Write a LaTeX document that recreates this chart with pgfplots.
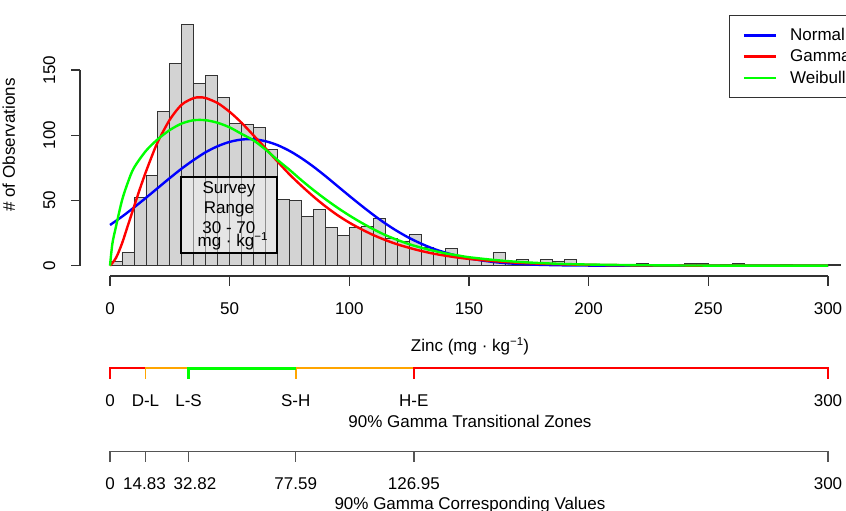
\documentclass[border=0pt]{standalone}
\usepackage{pgfplots}
\pgfplotsset{compat=1.18}
\usepackage{fontspec}
\setmainfont{Liberation Sans}
\definecolor{Rred}{RGB}{255,0,0}
\definecolor{Rblue}{RGB}{0,0,255}
\definecolor{Rgreen}{RGB}{0,255,0}
\definecolor{Rorange}{RGB}{255,165,0}
\definecolor{barfill}{RGB}{211,211,211}
\definecolor{axisgray}{RGB}{50,50,50}
\definecolor{zonegray}{RGB}{85,85,85}
\newcommand{\sups}[1]{\raisebox{6.5pt}{\fontsize{11.5}{12}\selectfont #1}}
\begin{document}
\begin{tikzpicture}[font=\fontsize{17}{20}\selectfont]
\path[use as bounding box] (0,0) rectangle (846pt,511pt);
\clip (0,0) rectangle (846pt,511pt);
\begin{axis}[
  at={(80pt,245.3pt)}, anchor=south west,
  scale only axis, width=748pt, height=195.7pt,
  xmin=-12.54, xmax=300, ymin=0, ymax=150,
  enlargelimits=false, clip=false,
  axis x line=none, axis y line=left,
  y axis line style={-, line width=1.1pt, draw=axisgray},
  xtick=\empty, ytick={0,50,100,150}, yticklabels={},
  tick align=outside, major tick length=8.5pt,
  ytick style={line width=1.1pt, draw=axisgray},
  legend cell align=left,
  legend style={at={(axis description cs:0.868,1.281)}, anchor=north west,
    draw=axisgray, line width=1pt, fill=white,
    font=\fontsize{17}{20}\selectfont,
    inner xsep=13pt, inner ysep=11pt, row sep=3.6pt,
    /tikz/every odd column/.append style={column sep=11pt}},
  legend image code/.code={\draw[#1] (0pt,0pt) -- (32pt,0pt);},
]
% histogram (bin start, count)
\addplot[ybar interval, fill=barfill, draw=black!80, line width=0.8pt, forget plot] coordinates {
(0,3) (5,10) (10,52) (15,69) (20,118) (25,155) (30,185) (35,140) (40,146) (45,129)
(50,109) (55,108) (60,106) (65,89) (70,51) (75,50) (80,38) (85,43) (90,29) (95,23)
(100,29) (105,30) (110,36) (115,21) (120,19) (125,24) (130,14) (135,9) (140,13) (145,7)
(150,5) (155,4) (160,10) (165,2) (170,5) (175,2) (180,5) (185,3) (190,5) (195,1)
(200,1) (205,0) (210,1) (215,0) (220,2) (225,1) (230,0) (235,0) (240,2) (245,2)
(250,0) (255,1) (260,2) (265,0) (270,0) (275,0) (280,1) (285,0) (290,0) (295,0)
(300,1) (305,0)
};
% survey range box
\draw[black, line width=2pt, fill=white, fill opacity=0.45] (axis cs:29.7,9.5) rectangle (axis cs:69.7,68.1);
\node[anchor=base] at (axis cs:49.7,54.96) {Survey};
\node[anchor=base] at (axis cs:49.7,40.16) {Range};
\node[anchor=base] at (axis cs:49.7,24.83) {30 - 70};
\node[anchor=base] at (axis cs:51.2,14.56) {mg · kg\sups{−1}};
% fitted curves
\addplot[Rblue, line width=2.4pt, smooth] coordinates {
(0,31.2) (5,37.6) (10,44.6) (15,52.0) (20,59.6) (25,67.2) (30,74.5) (35,81.1) (40,87.0) (45,91.6)
(50,94.9) (55,96.7) (60,96.9) (65,95.4) (70,92.4) (75,88.0) (80,82.4) (85,75.9) (90,68.7) (95,61.1)
(100,53.5) (105,46.1) (110,39.0) (115,32.4) (120,26.5) (125,21.3) (130,16.9) (135,13.1) (140,10.1) (145,7.6)
(150,5.6) (155,4.1) (160,2.9) (165,2.0) (170,1.4) (175,0.96) (180,0.64) (190,0.27) (200,0.11) (220,0.01)
(250,0) (300,0)
};
\addlegendentry{Normal}
\addplot[Rred, line width=2.4pt, smooth] coordinates {
(0,0) (2.5,6) (5,17) (7.5,31) (10,45) (12.5,59) (15,72) (17.5,84) (20,95) (25,112)
(30,123.5) (35,128.5) (37.5,129) (40,128.5) (45,124.6) (50,117.9) (55,109.5) (60,99.8) (65,90) (70,79.8)
(75,70) (80,61.2) (85,53) (90,45.5) (95,38.8) (100,33.0) (105,28) (110,23.5) (115,19.7) (120,16.4)
(125,13.7) (130,11.3) (135,9.3) (140,7.7) (145,6.3) (150,5.2) (160,3.5) (170,2.3) (180,1.5) (190,1.0)
(200,0.65) (220,0.27) (250,0.07) (300,0)
};
\addlegendentry{Gamma}
\addplot[Rgreen, line width=2.4pt, smooth] coordinates {
(0,0) (1,17) (2.5,30) (5,50) (7.5,64) (10,75) (15,88) (20,97) (25,104) (30,109)
(35,111.5) (40,111.5) (45,109.5) (50,106) (55,101) (60,96) (65,89) (70,81) (75,73.5) (80,65.5)
(85,58) (90,51) (95,44.5) (100,38.5) (105,33) (110,28) (115,23.5) (120,19.8) (125,16.5) (130,13.8)
(135,11.5) (140,9.5) (145,8) (150,6.5) (160,4.5) (170,3) (180,2) (190,1.3) (200,0.9) (220,0.4)
(250,0.1) (300,0)
};
\addlegendentry{Weibull}
% main x axis (R style)
\draw[axisgray, line width=1.1pt] (axis cs:0,-7.9) -- (axis cs:300,-7.9);
\draw[axisgray, line width=1.1pt] (axis cs:0,-7.9) -- (axis cs:0,-15.2);
\draw[axisgray, line width=1.1pt] (axis cs:50,-7.9) -- (axis cs:50,-15.2);
\draw[axisgray, line width=1.1pt] (axis cs:100,-7.9) -- (axis cs:100,-15.2);
\draw[axisgray, line width=1.1pt] (axis cs:150,-7.9) -- (axis cs:150,-15.2);
\draw[axisgray, line width=1.1pt] (axis cs:200,-7.9) -- (axis cs:200,-15.2);
\draw[axisgray, line width=1.1pt] (axis cs:250,-7.9) -- (axis cs:250,-15.2);
\draw[axisgray, line width=1.1pt] (axis cs:300,-7.9) -- (axis cs:300,-15.2);
\node[anchor=base] at (axis cs:0,-37.2) {0};
\node[anchor=base] at (axis cs:50,-37.2) {50};
\node[anchor=base] at (axis cs:100,-37.2) {100};
\node[anchor=base] at (axis cs:150,-37.2) {150};
\node[anchor=base] at (axis cs:200,-37.2) {200};
\node[anchor=base] at (axis cs:250,-37.2) {250};
\node[anchor=base] at (axis cs:300,-37.2) {300};
\node[anchor=base] at (axis cs:150.4,-65.9) {Zinc (mg · kg\sups{−1})};
% y tick labels and label
\node[rotate=90, anchor=base] at (axis cs:-22.98,0) {0};
\node[rotate=90, anchor=base] at (axis cs:-22.98,50) {50};
\node[rotate=90, anchor=base] at (axis cs:-22.98,100) {100};
\node[rotate=90, anchor=base] at (axis cs:-22.98,150) {150};
\node[rotate=90, anchor=base] at (axis cs:-39.7,92.5) {\# of Observations};
% transitional zones
\addplot[Rred, line width=1.8pt, forget plot] coordinates {(0,-86.8) (0,-78.6) (14.83,-78.6)};
\addplot[Rorange, line width=1.8pt, forget plot] coordinates {(14.83,-86.8) (14.83,-78.6) (32.82,-78.6)};
\addplot[Rorange, line width=1.8pt, forget plot] coordinates {(77.59,-86.8) (77.59,-78.6) (126.95,-78.6)};
\addplot[Rred, line width=1.8pt, forget plot] coordinates {(126.95,-86.8) (126.95,-78.6) (300,-78.6) (300,-86.8)};
\addplot[Rgreen, line width=2.6pt, forget plot] coordinates {(32.82,-86.8) (32.82,-78.6) (77.59,-78.6)};
\node[anchor=base] at (axis cs:0,-108.1) {0};
\node[anchor=base] at (axis cs:14.83,-108.1) {D-L};
\node[anchor=base] at (axis cs:32.82,-108.1) {L-S};
\node[anchor=base] at (axis cs:77.59,-108.1) {S-H};
\node[anchor=base] at (axis cs:126.95,-108.1) {H-E};
\node[anchor=base] at (axis cs:300,-108.1) {300};
\node[anchor=base] at (axis cs:150.4,-124.2) {90\% Gamma Transitional Zones};
% corresponding values
\addplot[zonegray, line width=1.5pt, forget plot] coordinates {(0,-150.5) (0,-142.6) (300,-142.6) (300,-150.5)};
\addplot[zonegray, line width=1.5pt, forget plot] coordinates {(14.83,-142.6) (14.83,-150.5)};
\addplot[zonegray, line width=1.5pt, forget plot] coordinates {(32.82,-142.6) (32.82,-150.5)};
\addplot[zonegray, line width=1.5pt, forget plot] coordinates {(77.59,-142.6) (77.59,-150.5)};
\addplot[zonegray, line width=1.5pt, forget plot] coordinates {(126.95,-142.6) (126.95,-150.5)};
\node[anchor=base] at (axis cs:0,-171.2) {0};
\node[anchor=base] at (axis cs:14.4,-171.2) {14.83};
\node[anchor=base] at (axis cs:35.5,-171.2) {32.82};
\node[anchor=base] at (axis cs:77.59,-171.2) {77.59};
\node[anchor=base] at (axis cs:126.95,-171.2) {126.95};
\node[anchor=base] at (axis cs:300,-171.2) {300};
\node[anchor=base] at (axis cs:150.4,-187.2) {90\% Gamma Corresponding Values};
\end{axis}
\end{tikzpicture}
\end{document}
